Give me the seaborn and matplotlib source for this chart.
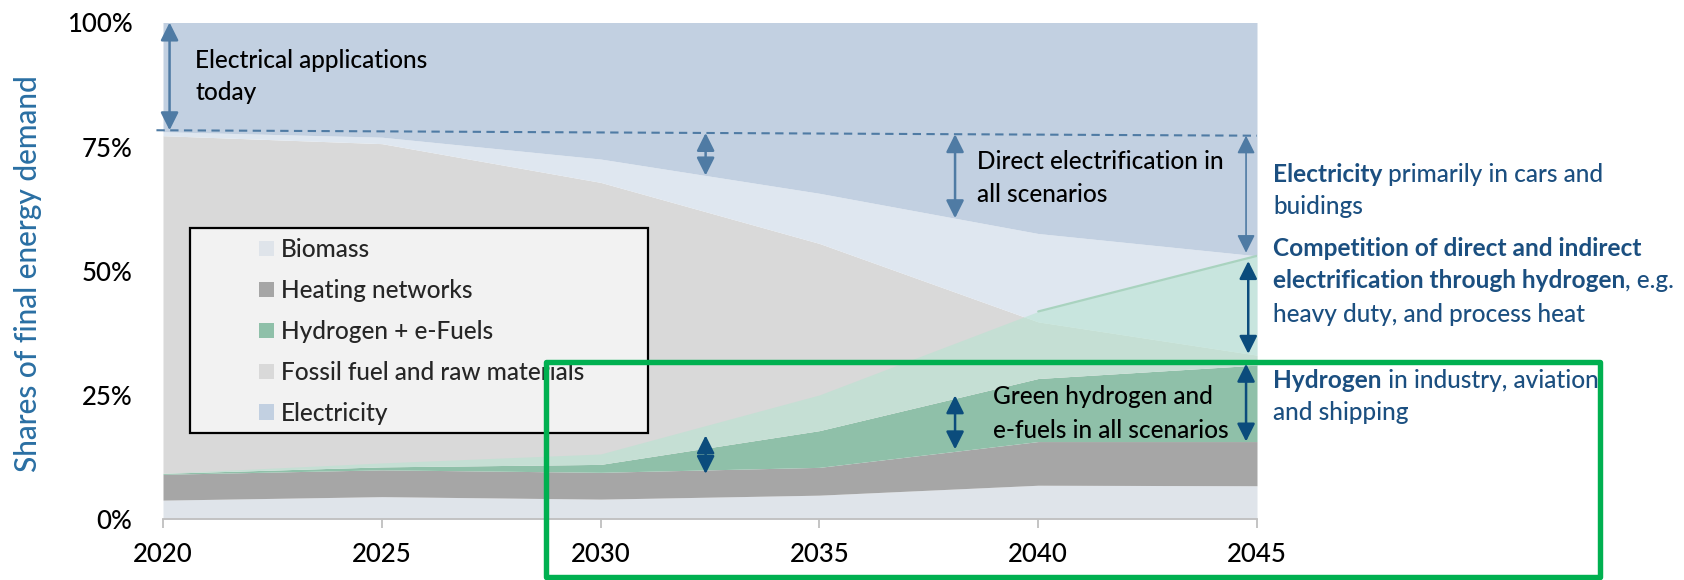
import numpy as np
import pandas as pd
import matplotlib
matplotlib.use("Agg")
import matplotlib.pyplot as plt
import seaborn as sns
from matplotlib.patches import Rectangle, Patch

# ---------------- data (shares of final energy demand, %) ----------------
years = [2020, 2025, 2030, 2035, 2040, 2045]
biomass = [3.8, 4.5, 4.0, 4.8, 6.8, 6.7]
heating_networks = [5.2, 5.4, 5.4, 5.6, 8.8, 8.9]
hydrogen_efuels = [0.2, 0.6, 1.6, 7.4, 12.7, 15.4]
fossil = [68.0, 65.1, 56.8, 37.7, 11.4, 2.0]
electricity_range = [0.8, 1.3, 4.7, 10.1, 17.8, 20.0]   # extra electrification across scenarios
electricity = [22.0, 23.1, 27.5, 34.4, 42.5, 47.0]
hydrogen_range = [0.0, 0.8, 2.1, 7.2, 13.5, 22.0]       # extra hydrogen across scenarios
today_line_years = [2020, 2045]
today_line_values = [78.3, 77.2]

categories = ["Biomass", "Heating networks", "Hydrogen + e-Fuels",
              "Fossil fuel and raw materials", "Electricity"]
y_ticks = [0, 25, 50, 75, 100]
y_tick_labels = ["0%", "25%", "50%", "75%", "100%"]
x_ticks = [2020, 2025, 2030, 2035, 2040, 2045]

# ---------------- styles ----------------
C_BIO = "#dfe4ea"
C_HEAT = "#a6a6a6"
C_H2 = "#8fc0a9"
C_FOS = "#d9d9d9"
C_ELR = "#dfe7f0"
C_EL = "#c2d0e1"
C_H2R = "#b6e4d0"
C_STEEL = "#4f7ba4"
C_DARK = "#0b4c7c"
C_TXT = "#1b4f80"
FONT = ["Lato", "DejaVu Sans"]
FS = 17.6          # annotation / legend text size
REG = "medium"

sns.set_theme(style="white")
plt.rcParams["font.family"] = FONT

W, H = 1684, 580
fig = plt.figure(figsize=(W / 100, H / 100), dpi=100)
fig.patch.set_facecolor("white")


def fx(px):
    return px / W


def fy(py):
    return 1 - py / H


ax = fig.add_axes([fx(163), fy(519), fx(1257) - fx(163), fy(22.5) - fy(519)])
ax.set_facecolor("white")

yrs = np.array(years, dtype=float)
stack = [np.array(v, dtype=float) for v in
         (biomass, heating_networks, hydrogen_efuels, fossil, electricity_range, electricity)]
ax.stackplot(yrs, *stack, colors=[C_BIO, C_HEAT, C_H2, C_FOS, C_ELR, C_EL], linewidth=0)

cum = np.cumsum(np.vstack(stack), axis=0)
bio_top, heat_top, h2_top, fos_top, elec_low = cum[0], cum[1], cum[2], cum[3], cum[4]
h2_upper = h2_top + np.array(hydrogen_range)

ax.fill_between(yrs, h2_top, h2_upper, color=C_H2R, alpha=0.55, linewidth=0, zorder=3)
df_up = pd.DataFrame({"year": yrs[4:], "share": h2_upper[4:]})
sns.lineplot(data=df_up, x="year", y="share", ax=ax, color="#a9d3bf", lw=1.6, zorder=4)

df_today = pd.DataFrame({"year": [2019.85, 2045], "share": today_line_values})
sns.lineplot(data=df_today, x="year", y="share", ax=ax, color=C_STEEL, lw=1.5,
             dashes=(4, 2.6), zorder=5, clip_on=False)

ax.set_xlim(2020, 2045)
ax.set_ylim(0, 100)
ax.set_xticks(x_ticks)
ax.set_xticklabels([str(x) for x in x_ticks])
ax.set_yticks(y_ticks)
ax.set_yticklabels(y_tick_labels)
for s in ("left", "top", "right"):
    ax.spines[s].set_visible(False)
ax.spines["bottom"].set_color("#bfbfbf")
ax.spines["bottom"].set_linewidth(1.3)
ax.tick_params(axis="x", direction="out", length=6.5, width=1.3, color="#bfbfbf",
               labelsize=18.5, pad=10, bottom=True)
ax.tick_params(axis="y", length=0, labelsize=18.5, pad=22)
for lab in ax.get_xticklabels() + ax.get_yticklabels():
    lab.set_color("black")
    lab.set_fontweight(REG)
ax.set_xlabel("")
ax.set_ylabel("Shares of final energy demand", fontsize=21.5, color="#2a6fa3", fontweight=REG)
ax.yaxis.set_label_coords((42 - 163) / 1094, 0.4935)


def today(x):
    return np.interp(x, today_line_years, today_line_values)


def arrow(x, y0, y1, color, lw=1.8):
    ax.annotate("", xy=(x, y1), xytext=(x, y0),
                arrowprops=dict(arrowstyle="<|-|>,head_length=0.9,head_width=0.45",
                                mutation_scale=12, color=color, lw=lw,
                                shrinkA=0, shrinkB=0),
                annotation_clip=False, zorder=6)


# steel-blue (electrification) arrows
arrow(2020.15, 100, today(2020.15), C_STEEL)
for xa in (2032.4, 2038.1):
    arrow(xa, today(xa), np.interp(xa, yrs, elec_low), C_STEEL)
arrow(2044.75, today(2044.75), np.interp(2044.75, yrs, elec_low) + 0.4, C_STEEL, lw=1.2)

# dark-blue (hydrogen) arrows
arrow(2044.8, np.interp(2044.8, yrs, h2_upper) - 0.6, np.interp(2044.8, yrs, fos_top), C_DARK)
arrow(2044.75, np.interp(2044.75, yrs, h2_top) + 0.4, np.interp(2044.75, yrs, heat_top), C_DARK)
arrow(2038.1, np.interp(2038.1, yrs, h2_top) + 0.6, np.interp(2038.1, yrs, heat_top) + 0.4, C_DARK)
arrow(2032.4, (np.interp(2032.4, yrs, h2_top) + np.interp(2032.4, yrs, h2_upper)) / 2 + 0.3,
      np.interp(2032.4, yrs, heat_top) - 0.8, C_DARK)

# in-chart annotations (black)
for txt, (px, py) in [("Electrical applications", (195, 61)), ("today", (195, 92)),
                      ("Direct electrification in", (977, 161)), ("all scenarios", (977, 194)),
                      ("Green hydrogen and", (993, 397)), ("e-fuels in all scenarios", (993, 430))]:
    fig.text(fx(px), fy(py), txt, ha="left", va="center", fontsize=FS, color="black",
             fontweight=REG, zorder=3)


def rich_line(px, py, segments, size=FS, color=C_TXT):
    prev = None
    for text, weight in segments:
        if prev is None:
            prev = fig.text(fx(px), fy(py), text, ha="left", va="center", fontsize=size,
                            fontweight=weight, color=color, zorder=3)
        else:
            prev = ax.annotate(text, xy=(1, 0), xycoords=prev, ha="left", va="bottom",
                               fontsize=size, fontweight=weight, color=color,
                               annotation_clip=False)


rich_line(1273, 175, [("Electricity", "bold"), (" primarily in cars and", REG)])
rich_line(1273, 207, [("buidings", REG)])
rich_line(1273, 249, [("Competition of direct and indirect", "bold")])
rich_line(1273, 281, [("electrification through hydrogen", "bold"), (", e.g.", REG)])
rich_line(1273, 314, [("heavy duty, and process heat", REG)])
rich_line(1273, 381, [("Hydrogen", "bold"), (" in industry, aviation", REG)])
rich_line(1273, 413, [("and shipping", REG)])

# legend with a boxed frame
fig.add_artist(Rectangle((fx(190), fy(433)), fx(648) - fx(190), fy(228) - fy(433),
                         transform=fig.transFigure, facecolor="#f2f2f2", edgecolor="black",
                         linewidth=1.6, zorder=2))
leg_colors = [C_BIO, C_HEAT, C_H2, C_FOS, C_EL]
handles = [Patch(facecolor=c, edgecolor="none", label=l) for c, l in zip(leg_colors, categories)]
fig.legend(handles=handles, loc="upper left", bbox_to_anchor=(fx(259), fy(238)),
           frameon=False, prop={"size": FS, "weight": REG}, handlelength=0.6,
           handleheight=0.6, handletextpad=0.3, labelspacing=0.735, borderpad=0,
           borderaxespad=0)

# highlighted frame (green)
fig.add_artist(Rectangle((fx(546), fy(577)), fx(1600) - fx(546), fy(362) - fy(577),
                         transform=fig.transFigure, facecolor="none", edgecolor="#00b050",
                         linewidth=3.9, joinstyle="round", zorder=6))

fig.savefig("out.png", dpi=100)
